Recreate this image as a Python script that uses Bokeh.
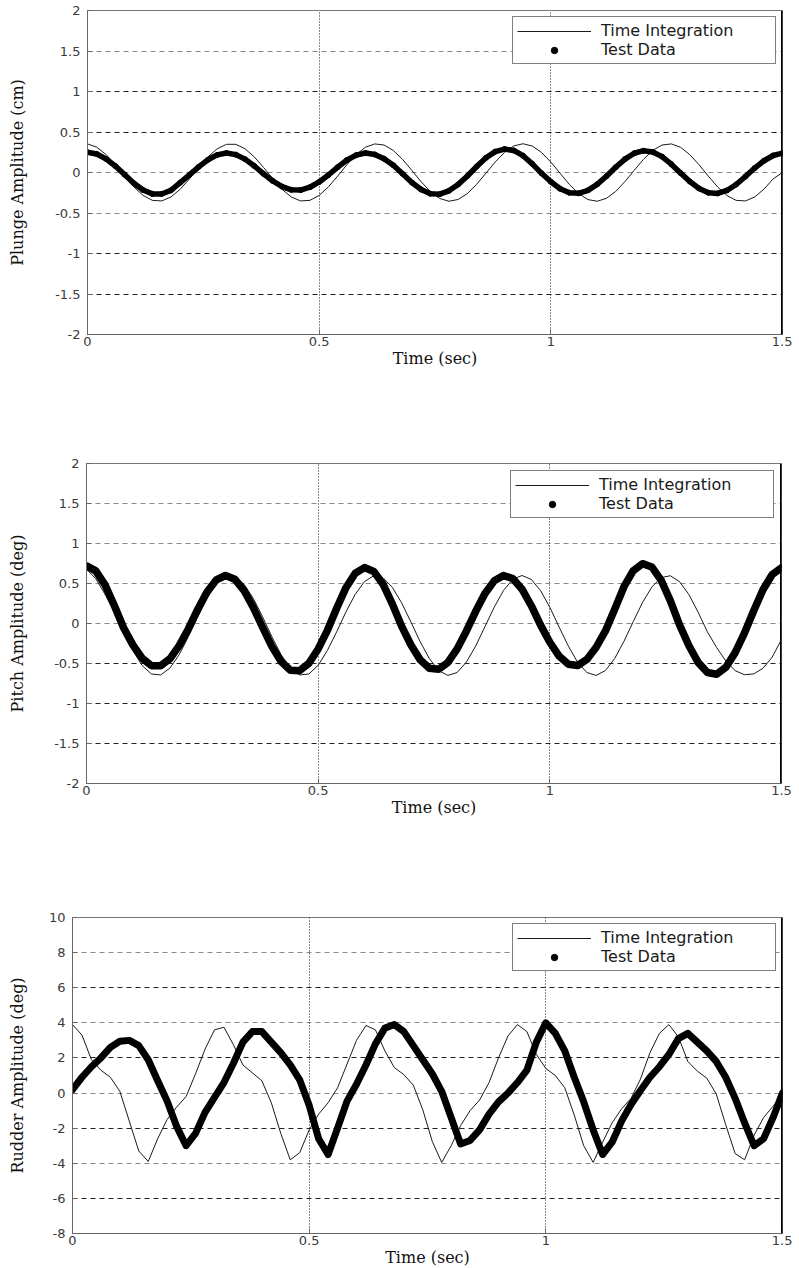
from bokeh.plotting import figure
from bokeh.models import (Range1d, FixedTicker, Grid, Span, Legend, LegendItem,
                          NumeralTickFormatter, ColumnDataSource)
from bokeh.embed import file_html
from bokeh.resources import INLINE

# ---------------- data ----------------
time_s = [0.00, 0.02, 0.04, 0.06, 0.08, 0.10, 0.12, 0.14, 0.16, 0.18,
          0.20, 0.22, 0.24, 0.26, 0.28, 0.30, 0.32, 0.34, 0.36, 0.38,
          0.40, 0.42, 0.44, 0.46, 0.48, 0.50, 0.52, 0.54, 0.56, 0.58,
          0.60, 0.62, 0.64, 0.66, 0.68, 0.70, 0.72, 0.74, 0.76, 0.78,
          0.80, 0.82, 0.84, 0.86, 0.88, 0.90, 0.92, 0.94, 0.96, 0.98,
          1.00, 1.02, 1.04, 1.06, 1.08, 1.10, 1.12, 1.14, 1.16, 1.18,
          1.20, 1.22, 1.24, 1.26, 1.28, 1.30, 1.32, 1.34, 1.36, 1.38,
          1.40, 1.42, 1.44, 1.46, 1.48, 1.50]

plunge_integration = [0.353, 0.312, 0.222, 0.096, -0.044, -0.178, -0.283, -0.344, -0.351, -0.303,
                      -0.207, -0.079, 0.062, 0.193, 0.293, 0.348, 0.348, 0.293, 0.192, 0.062,
                      -0.079, -0.208, -0.303, -0.351, -0.344, -0.283, -0.177, -0.044, 0.097, 0.222,
                      0.312, 0.353, 0.339, 0.272, 0.162, 0.026, -0.114, -0.235, -0.320, -0.355,
                      -0.333, -0.260, -0.145, -0.008, 0.130, 0.248, 0.328, 0.355, 0.327, 0.247,
                      0.129, -0.010, -0.147, -0.261, -0.334, -0.355, -0.319, -0.234, -0.112, 0.027,
                      0.163, 0.273, 0.339, 0.353, 0.311, 0.220, 0.095, -0.045, -0.179, -0.284,
                      -0.344, -0.351, -0.302, -0.206, -0.078, 0.000]

plunge_test = [0.250, 0.229, 0.168, 0.080, -0.026, -0.133, -0.217, -0.264, -0.265, -0.220,
               -0.125, -0.029, 0.070, 0.157, 0.217, 0.240, 0.221, 0.165, 0.080, -0.017,
               -0.105, -0.174, -0.214, -0.217, -0.182, -0.117, -0.031, 0.066, 0.154, 0.215,
               0.240, 0.223, 0.170, 0.090, -0.015, -0.123, -0.210, -0.261, -0.267, -0.226,
               -0.147, -0.043, 0.074, 0.181, 0.258, 0.289, 0.272, 0.207, 0.107, -0.010,
               -0.115, -0.200, -0.250, -0.257, -0.220, -0.146, -0.046, 0.065, 0.165, 0.238,
               0.269, 0.254, 0.196, 0.103, -0.007, -0.112, -0.197, -0.249, -0.258, -0.222,
               -0.148, -0.049, 0.055, 0.145, 0.210, 0.239]

pitch_integration = [0.680, 0.560, 0.365, 0.144, -0.103, -0.338, -0.524, -0.631, -0.643, -0.558,
                     -0.390, -0.164, 0.084, 0.314, 0.491, 0.588, 0.588, 0.491, 0.314, 0.084,
                     -0.164, -0.391, -0.559, -0.643, -0.631, -0.523, -0.336, -0.103, 0.145, 0.365,
                     0.524, 0.597, 0.572, 0.453, 0.259, 0.021, -0.226, -0.439, -0.589, -0.649,
                     -0.612, -0.482, -0.281, -0.039, 0.204, 0.413, 0.552, 0.600, 0.551, 0.411,
                     0.202, -0.043, -0.283, -0.484, -0.613, -0.649, -0.588, -0.438, -0.223, 0.023,
                     0.262, 0.455, 0.573, 0.597, 0.523, 0.363, 0.142, -0.104, -0.300, -0.470,
                     -0.590, -0.640, -0.630, -0.560, -0.420, -0.200]

pitch_test = [0.720, 0.658, 0.483, 0.225, -0.053, -0.267, -0.434, -0.527, -0.529, -0.441,
              -0.276, -0.065, 0.175, 0.394, 0.544, 0.600, 0.554, 0.412, 0.200, -0.047,
              -0.286, -0.475, -0.583, -0.590, -0.497, -0.318, -0.085, 0.191, 0.448, 0.628,
              0.699, 0.651, 0.491, 0.246, -0.033, -0.265, -0.452, -0.560, -0.573, -0.487,
              -0.317, -0.093, 0.152, 0.374, 0.533, 0.599, 0.562, 0.429, 0.222, -0.020,
              -0.234, -0.407, -0.510, -0.525, -0.449, -0.297, -0.093, 0.179, 0.460, 0.660,
              0.748, 0.707, 0.543, 0.286, -0.017, -0.275, -0.486, -0.613, -0.635, -0.547,
              -0.364, -0.120, 0.160, 0.422, 0.613, 0.697]

rudder_integration = [3.9, 3.3, 1.9, 1.3, 0.9, 0.1, -1.6, -3.3, -3.9, -2.6,
                      -1.5, -0.8, -0.2, 1.1, 2.5, 3.6, 3.75, 2.75, 1.6, 1.15,
                      0.7, -0.55, -2.3, -3.8, -3.4, -2.1, -1.2, -0.55, 0.3, 1.65,
                      3.0, 3.85, 3.6, 2.4, 1.45, 1.05, 0.45, -0.95, -2.75, -3.95,
                      -3.0, -1.85, -1.0, -0.4, 0.6, 2.0, 3.25, 3.9, 3.5, 2.2,
                      1.4, 1.0, 0.3, -1.25, -3.0, -3.95, -2.8, -1.7, -0.9, -0.3,
                      0.8, 2.3, 3.4, 3.9, 3.2, 1.8, 1.25, 0.85, -0.05, -1.8,
                      -3.45, -3.8, -2.4, -1.4, -0.75, -0.1]

rudder_test = [0.2, 0.9, 1.5, 2.0, 2.6, 2.95, 3.0, 2.7, 1.9, 0.7,
               -0.46, -1.9, -3.0, -2.3, -1.1, -0.25, 0.6, 1.7, 2.9, 3.5,
               3.5, 2.9, 2.3, 1.6, 0.75, -0.7, -2.6, -3.5, -2.0, -0.46,
               0.5, 1.6, 2.8, 3.7, 3.9, 3.5, 2.7, 1.9, 1.1, 0.1,
               -1.4, -2.9, -2.7, -2.1, -1.2, -0.5, 0.0, 0.6, 1.3, 2.9,
               4.0, 3.4, 2.4, 0.9, -0.5, -2.1, -3.5, -2.8, -1.6, -0.65,
               0.15, 0.9, 1.5, 2.2, 3.1, 3.4, 2.9, 2.4, 1.8, 0.9,
               -0.3, -1.7, -3.0, -2.6, -1.4, 0.0]

x_ticks = [0, 0.5, 1, 1.5]
x_grid_ticks = [0.5, 1]
angle_ticks = [-2, -1.5, -1, -0.5, 0, 0.5, 1, 1.5, 2]
rudder_ticks = [-8, -6, -4, -2, 0, 2, 4, 6, 8, 10]

plunge_dark = [1, 0.5, -1, -1.5]
plunge_light = [1.5, 0, -0.5]
pitch_dark = [-0.5, -1, -1.5]
pitch_light = [1.5, 1, 0.5, 0]
rudder_dark = [6, 2, -2, -6]
rudder_light = [8, 4, 0, -4]

labels = ["Time Integration", "Test Data"]
x_label = "Time (sec)"

TICK_FONT = "DejaVu Sans"
LABEL_FONT = "DejaVu Serif"


def panel(ylabel, integ, test, yrange, yticks, dark, light,
          frame_w, frame_h, b_left, b_right, b_top, b_bottom,
          thick_w, ylab_standoff, legend_margin):
    p = figure(output_backend="svg", toolbar_location=None,
               frame_width=frame_w, frame_height=frame_h,
               min_border_left=b_left, min_border_right=b_right,
               min_border_top=b_top, min_border_bottom=b_bottom,
               x_range=Range1d(0, 1.5), y_range=Range1d(*yrange))
    p.background_fill_color = "white"
    p.border_fill_color = "white"
    p.outline_line_color = "#777777"
    p.outline_line_width = 1
    p.xgrid.visible = False
    p.ygrid.visible = False

    # grids
    p.add_layout(Grid(dimension=1, ticker=FixedTicker(ticks=light),
                      grid_line_color="#8a8a8a", grid_line_dash="5 4", grid_line_width=1))
    p.add_layout(Grid(dimension=1, ticker=FixedTicker(ticks=dark),
                      grid_line_color="#222222", grid_line_dash="5 4", grid_line_width=1))
    p.add_layout(Grid(dimension=0, ticker=FixedTicker(ticks=x_grid_ticks),
                      grid_line_color="#111111", grid_line_dash="1 2", grid_line_width=1))

    for ax in (p.xaxis[0], p.yaxis[0]):
        ax.axis_line_color = "#666666"
        ax.major_tick_line_color = "#666666"
        ax.major_tick_in = 5
        ax.major_tick_out = 0
        ax.minor_tick_line_color = None
        ax.major_label_text_font = TICK_FONT
        ax.major_label_text_font_size = "13px"
        ax.major_label_text_color = "#3a3a3a"
        ax.axis_label_text_font = LABEL_FONT
        ax.axis_label_text_font_size = "16px"
        ax.axis_label_text_font_style = "normal"
        ax.axis_label_text_color = "#111111"
        ax.formatter = NumeralTickFormatter(format="0.[0]")

    p.xaxis.ticker = FixedTicker(ticks=x_ticks)
    p.xaxis.axis_label = x_label
    p.xaxis.major_label_standoff = 2
    p.xaxis.axis_label_standoff = 0

    p.yaxis.ticker = FixedTicker(ticks=yticks)
    p.yaxis.axis_label = ylabel
    p.yaxis.major_label_standoff = 7
    p.yaxis.axis_label_standoff = ylab_standoff

    # thick right border of the box
    p.add_layout(Span(location=1.5, dimension="height", line_color="black", line_width=3))

    src = ColumnDataSource(dict(t=time_s, integ=integ, test=test))
    r_int = p.line("t", "integ", source=src, line_color="#1a1a1a", line_width=1)
    p.line("t", "test", source=src, line_color="black", line_width=thick_w,
           line_join="round", line_cap="round")
    r_mark = p.scatter("t", "test", source=src, marker="circle", size=5,
                       fill_color="black", line_color="black")

    legend = Legend(items=[LegendItem(label=labels[0], renderers=[r_int]),
                           LegendItem(label=labels[1], renderers=[r_mark])],
                    location="top_right", margin=legend_margin,
                    padding=4, spacing=0, glyph_width=74, glyph_height=16,
                    label_height=16, label_width=170, label_standoff=10,
                    label_text_font=TICK_FONT, label_text_font_size="16px",
                    label_text_color="#1a1a1a",
                    border_line_color="black", border_line_width=1.5,
                    background_fill_color="white", background_fill_alpha=1.0)
    p.add_layout(legend)
    return p


p1 = panel("Plunge Amplitude (cm)", plunge_integration, plunge_test, (-2, 2), angle_ticks,
           plunge_dark, plunge_light, 695, 324, 87, 10, 10, 59, 5.5, 25, 6)
p2 = panel("Pitch Amplitude (deg)", pitch_integration, pitch_test, (-2, 2), angle_ticks,
           pitch_dark, pitch_light, 695, 320, 86, 11, 70, 60, 7.5, 24, 7)
p3 = panel("Rudder Amplitude (deg)", rudder_integration, rudder_test, (-8, 10), rudder_ticks,
           rudder_dark, rudder_light, 710, 316, 72, 10, 74, 34, 7, 19, 6)

open("out.html", "w").write(file_html([p1, p2, p3], INLINE))
